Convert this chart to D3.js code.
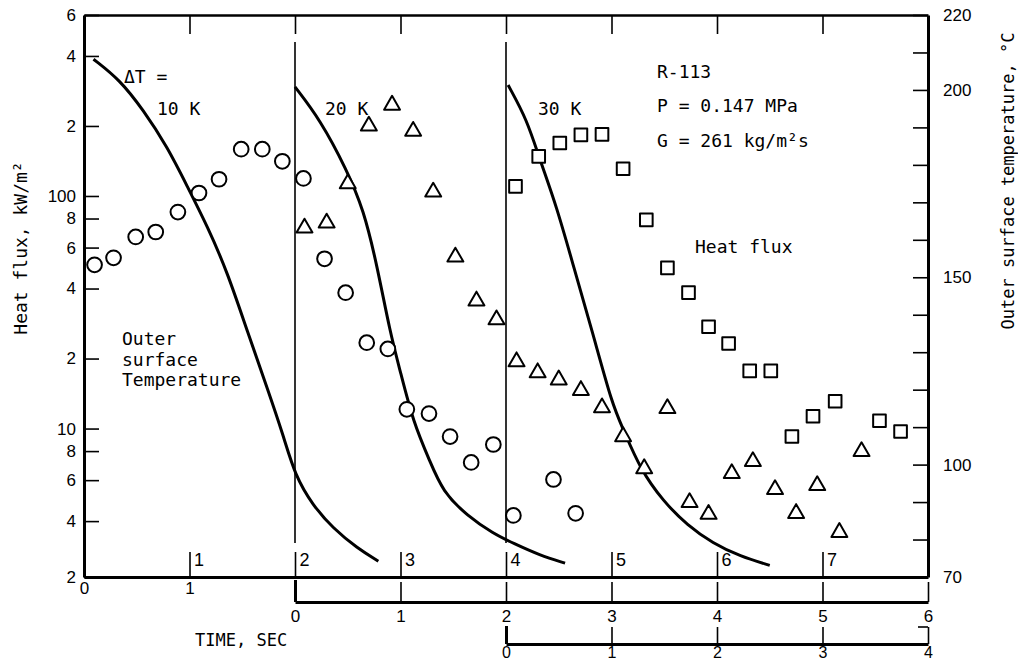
<!DOCTYPE html>
<html>
<head>
<meta charset="utf-8">
<script src="https://cdn.jsdelivr.net/npm/d3@7"></script>
<style>
  body { margin: 0; background: #fff; }
  svg { display: block; }
  .num { font-family: "Liberation Sans", Arial, sans-serif; font-size: 17px; fill: #000; }
  .note { font-family: "DejaVu Sans Mono", monospace; font-size: 18px; fill: #000; }
</style>
</head>
<body>
<svg id="chart"></svg>
<script>
// heat flux data, time on main axis (s), flux kW/m2
let circleT = [0.10, 0.28, 0.49, 0.68, 0.89, 1.09, 1.28, 1.49, 1.69, 1.88, 2.08, 2.28, 2.48, 2.68, 2.88, 3.06, 3.27, 3.47, 3.67, 3.88, 4.07, 4.45, 4.66];
let circleQ = [50.6, 54.2, 66.7, 70.0, 85.3, 103, 118, 159, 159, 141, 119, 53.7, 38.4, 23.4, 22.0, 12.1, 11.6, 9.24, 7.15, 8.54, 4.23, 6.04, 4.32];

let triT = [2.09, 2.30, 2.50, 2.70, 2.92, 3.12, 3.31, 3.52, 3.72, 3.91, 4.10, 4.30, 4.50, 4.71, 4.91, 5.11, 5.31, 5.53, 5.74, 5.92, 6.14, 6.34, 6.55, 6.75, 6.95, 7.16, 7.37];
let triQ = [72.9, 76.6, 113, 200, 246, 190, 104, 54.7, 35.4, 29.4, 19.4, 17.4, 16.2, 14.6, 12.3, 9.24, 6.73, 12.2, 4.81, 4.28, 6.41, 7.22, 5.47, 4.32, 5.69, 3.58, 7.97];

let sqT = [4.09, 4.31, 4.51, 4.71, 4.91, 5.11, 5.33, 5.53, 5.73, 5.92, 6.11, 6.31, 6.51, 6.71, 6.91, 7.12, 7.54, 7.74];
let sqQ = [110, 148, 169, 183, 184, 131, 78.9, 49.1, 38.4, 27.4, 23.2, 17.7, 17.7, 9.24, 11.3, 13.1, 10.8, 9.71];

// outer surface temperature curves (s, degC)
let temp10T = [0.09, 0.34, 0.56, 0.79, 0.98, 1.17, 1.36, 1.55, 1.74, 1.89, 2.00, 2.17, 2.36, 2.59, 2.79];
let temp10V = [208.2, 202.7, 194.7, 184.8, 174.2, 163.6, 151.3, 135.4, 120.2, 107.7, 97.1, 89.1, 83.0, 77.7, 74.2];
let temp20T = [2.00, 2.24, 2.49, 2.65, 2.78, 2.90, 3.00, 3.12, 3.28, 3.40, 3.63, 3.88, 4.07, 4.32, 4.56];
let temp20V = [200.8, 192.0, 178.7, 168.1, 152.9, 135.4, 124.7, 111.4, 100.8, 92.8, 86.4, 81.6, 79.0, 75.8, 73.7];
let temp30T = [4.02, 4.20, 4.32, 4.48, 4.64, 4.82, 5.01, 5.11, 5.27, 5.49, 5.72, 5.96, 6.22, 6.50];
let temp30V = [201.3, 192.0, 181.4, 168.9, 152.9, 135.4, 115.7, 109.6, 98.9, 90.2, 83.8, 79.0, 75.5, 73.1];

// axes
let fluxDomain = [2.3, 600];
let fluxTicks = [2.3, 4, 6, 8, 10, 20, 40, 60, 80, 100, 200, 400, 600];
let fluxLabels = ['2', '4', '6', '8', '10', '2', '4', '6', '8', '100', '2', '4', '6'];
let tempDomain = [70, 220];
let tempTicks = d3.range(70, 221, 10);
let tempLabels = { 70: '70', 100: '100', 150: '150', 200: '200', 220: '220' };
let timeDomain = [0, 8];
let runTicks = [1, 2, 3, 4, 5, 6, 7];
let mainLabels = [0, 1];
let time2Ticks = [0, 1, 2, 3, 4, 5, 6];
let time3Ticks = [0, 1, 2, 3, 4];

let width = 1018;
let height = 665;
let margin = { left: 84, right: 928, top: 15, bottom: 577 };

let svg = d3.select('#chart').attr('width', width).attr('height', height);

let x = d3.scaleLinear().domain(timeDomain).range([margin.left, margin.right]);
let x2 = d3.scaleLinear().domain([0, 6]).range([x(2), x(8)]);
let x3 = d3.scaleLinear().domain([0, 4]).range([x(4), x(8)]);
let yQ = d3.scaleLog().domain(fluxDomain).range([margin.bottom, margin.top]);
let yT = d3.scaleLinear().domain(tempDomain).range([margin.bottom, margin.top]);

let styleAxis = (g, w) => {
    g.select('.domain').attr('stroke-width', w).attr('stroke', '#000');
    g.selectAll('.tick line').attr('stroke-width', 1.6).attr('stroke', '#000');
    g.selectAll('text').attr('class', 'num').attr('font-family', null).attr('font-size', null);
};

// left axis (heat flux)
let yAxisL = svg.append('g').attr('transform', `translate(${margin.left},0)`)
    .call(d3.axisLeft(yQ).tickValues(fluxTicks)
        .tickFormat((d, i) => fluxLabels[i])
        .tickSizeInner(-15).tickSizeOuter(0).tickPadding(8));
styleAxis(yAxisL, 3);

// right axis (temperature)
let yAxisR = svg.append('g').attr('transform', `translate(${margin.right},0)`)
    .call(d3.axisRight(yT).tickValues(tempTicks)
        .tickFormat((d) => tempLabels[d] || '')
        .tickSizeInner(-15).tickSizeOuter(0).tickPadding(15));
styleAxis(yAxisR, 3);

// top frame with ticks
let topAxis = svg.append('g').attr('transform', `translate(0,${margin.top})`)
    .call(d3.axisTop(x).tickValues(runTicks).tickFormat('')
        .tickSizeInner(-19).tickSizeOuter(0));
styleAxis(topAxis, 2.5);

// main time axis
let mainAxis = svg.append('g').attr('transform', `translate(0,${margin.bottom})`)
    .call(d3.axisBottom(x).tickValues(runTicks).tickFormat(d3.format('d'))
        .tickSizeInner(-25).tickSizeOuter(0));
styleAxis(mainAxis, 3);
mainAxis.selectAll('.tick text')
    .attr('x', 4).attr('y', -24).attr('dy', '0.71em').attr('text-anchor', 'start')
    .style('font-size', '18px');

let mainLab = svg.append('g').attr('transform', `translate(0,${margin.bottom})`)
    .call(d3.axisBottom(x).tickValues(mainLabels).tickFormat(d3.format('d'))
        .tickSize(0).tickPadding(5));
mainLab.select('.domain').remove();
mainLab.selectAll('text').attr('class', 'num').attr('font-family', null).attr('font-size', null);

// second run time axis
let axis2 = svg.append('g').attr('transform', 'translate(0,602)')
    .call(d3.axisBottom(x2).tickValues(time2Ticks).tickFormat(d3.format('d'))
        .tickSizeInner(-20).tickSizeOuter(0).tickPadding(8));
styleAxis(axis2, 3);
axis2.selectAll('.tick line').filter((d) => d === 0).attr('stroke-width', 3).attr('y2', -22);

// third run time axis
let axis3 = svg.append('g').attr('transform', 'translate(0,644)')
    .call(d3.axisBottom(x3).tickValues(time3Ticks).tickFormat(d3.format('d'))
        .tickSizeInner(-17).tickSizeOuter(0).tickPadding(3));
styleAxis(axis3, 3);
axis3.selectAll('.tick text').style('font-size', '16px');
axis3.selectAll('.tick line').filter((d) => d === 0).attr('stroke-width', 3).attr('y2', -18);
axis3.append('line')
    .attr('x1', x3(4) - 10).attr('x2', x3(4)).attr('y1', -17).attr('y2', -17)
    .attr('stroke', '#000').attr('stroke-width', 1.6);

// run separators
svg.selectAll('line.sep')
    .data([2, 4])
    .enter()
    .append('line')
    .attr('class', 'sep')
    .attr('x1', (d) => x(d)).attr('x2', (d) => x(d))
    .attr('y1', 42).attr('y2', 543)
    .attr('stroke', '#000').attr('stroke-width', 1.6);

// temperature curves
let line = d3.line()
    .x((d) => x(d[0]))
    .y((d) => yT(d[1]))
    .curve(d3.curveBasis);

let curves = [
    d3.zip(temp10T, temp10V),
    d3.zip(temp20T, temp20V),
    d3.zip(temp30T, temp30V),
];

svg.selectAll('path.temp')
    .data(curves)
    .enter()
    .append('path')
    .attr('class', 'temp')
    .attr('d', line)
    .attr('fill', 'none')
    .attr('stroke', '#000')
    .attr('stroke-width', 3);

// heat flux markers
let drawMarkers = (ts, qs, type, size) => {
    svg.append('g')
        .selectAll('path')
        .data(d3.zip(ts, qs))
        .enter()
        .append('path')
        .attr('d', d3.symbol().type(type).size(size))
        .attr('transform', (d) => `translate(${x(d[0])},${yQ(d[1])})`)
        .attr('fill', '#fff')
        .attr('stroke', '#000')
        .attr('stroke-width', 2)
        .attr('stroke-linejoin', 'round');
};

drawMarkers(circleT, circleQ, d3.symbolCircle, 170);
drawMarkers(triT, triQ, d3.symbolTriangle, 110);
drawMarkers(sqT, sqQ, d3.symbolSquare, 160);

// annotations
let notes = [
    ['\u0394T =', 124, 83],
    ['10 K', 157, 115],
    ['20 K', 325, 115],
    ['30 K', 538, 115],
    ['R-113', 657, 78],
    ['P = 0.147 MPa', 657, 112],
    ['G = 261 kg/m\u00b2s', 657, 147],
    ['Heat flux', 695, 253],
    ['Outer', 122, 345],
    ['surface', 122, 366],
    ['Temperature', 122, 386],
];

svg.selectAll('text.note')
    .data(notes)
    .enter()
    .append('text')
    .attr('class', 'note')
    .attr('x', (d) => d[1])
    .attr('y', (d) => d[2])
    .text((d) => d[0]);

svg.append('text')
    .attr('class', 'note')
    .attr('x', 195).attr('y', 646)
    .style('font-size', '17px')
    .text('TIME, SEC');

// axis titles
svg.append('text')
    .attr('class', 'note')
    .attr('transform', 'translate(20,248) rotate(-90)')
    .attr('text-anchor', 'middle')
    .attr('dominant-baseline', 'central')
    .style('font-size', '18px')
    .text('Heat flux, kW/m\u00b2');

svg.append('text')
    .attr('class', 'note')
    .attr('transform', 'translate(1008,181) rotate(-90)')
    .attr('text-anchor', 'middle')
    .attr('dominant-baseline', 'central')
    .style('font-size', '17px')
    .text('Outer surface temperature, \u00b0C');
</script>
</body>
</html>
